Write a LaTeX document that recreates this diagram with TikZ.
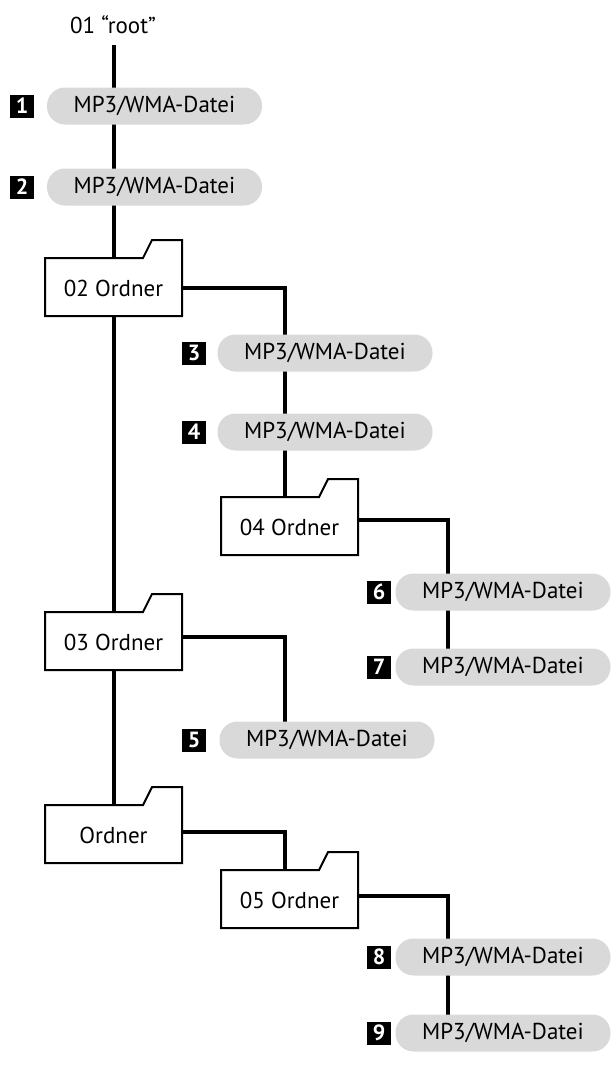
\documentclass[tikz,border=0pt]{standalone}
\usepackage{fontspec}
\setmainfont{PT Sans}
\begin{document}
\begin{tikzpicture}[x=1pt,y=-1pt,
 pill/.style={fill=black!15,rounded corners=18pt,minimum height=37pt,minimum width=#1,inner sep=0pt,font=\fontsize{23}{23}\selectfont},
 pill/.default=215pt,
 num/.style={fill=black,text=white,font=\bfseries\fontsize{22}{22}\selectfont,minimum width=24pt,minimum height=23pt,inner sep=0pt},
 ln/.style={line width=3.5pt},
 fold/.style={draw,line width=2pt,fill=white}]
\useasboundingbox (0,0) rectangle (615,1065);
\newcommand{\folder}[5]{% name, left, top(body), text, textoffset
 \draw[fold] (#2,#3) -- ({#2+98},#3) -- ({#2+107},{#3-18}) -- ({#2+137},{#3-18}) -- ({#2+137},{#3+58}) -- (#2,{#3+58}) -- cycle;
 \node[inner sep=0pt,font=\fontsize{23}{23}\selectfont] (#1) at ({#2+68.5},{#3+30}) {#4};
 \coordinate (#1t) at ({#2+69},#3);
 \coordinate (#1b) at ({#2+69},{#3+58});
 \coordinate (#1r) at ({#2+137},{#3+#5});}
\node[font=\fontsize{23}{23}\selectfont] (root) at (113,25) {01 “root”};
\coordinate (va) at (114,45);
\draw[ln] (va) -- (114,258);
\draw[ln] (114,316) -- (114,612);
\draw[ln] (114,670) -- (114,805);
\draw[ln] (182,288) -| (285,497);
\draw[ln] (358,520) -| (448,670);
\draw[ln] (182,637) -| (285,740);
\draw[ln] (182,832) -| (285,870);
\draw[ln] (358,896) -| (448,1033);
\node[pill] (p1) at (154.5,106) {MP3/WMA-Datei};
\node[num] (n1) at (22,106) {1};
\node[pill] (p2) at (154.5,187) {MP3/WMA-Datei};
\node[num] (n2) at (22,187) {2};
\folder{f02}{45}{258}{02 Ordner}{30}
\node[pill] (p3) at (325,353) {MP3/WMA-Datei};
\node[num] (n3) at (194,353) {3};
\node[pill] (p4) at (325,432) {MP3/WMA-Datei};
\node[num] (n4) at (194,432) {4};
\folder{f04}{221}{497}{04 Ordner}{23}
\node[pill] (p6) at (503,592) {MP3/WMA-Datei};
\node[num] (n6) at (379,592) {6};
\node[pill] (p7) at (503,667) {MP3/WMA-Datei};
\node[num] (n7) at (379,667) {7};
\folder{f03}{45}{612}{03 Ordner}{25}
\node[pill] (p5) at (327,740) {MP3/WMA-Datei};
\node[num] (n5) at (194,740) {5};
\folder{f00}{45}{805}{Ordner}{27}
\folder{f05}{221}{870}{05 Ordner}{26}
\node[pill] (p8) at (503,957) {MP3/WMA-Datei};
\node[num] (n8) at (379,957) {8};
\node[pill] (p9) at (503,1033) {MP3/WMA-Datei};
\node[num] (n9) at (379,1033) {9};
\end{tikzpicture}
\end{document}
